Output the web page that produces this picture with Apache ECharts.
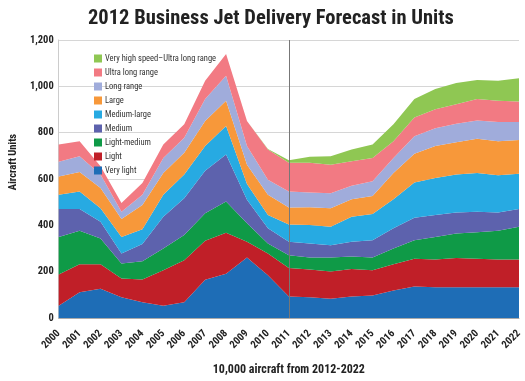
<!DOCTYPE html>
<html>
<head>
<meta charset="utf-8">
<script src="https://cdn.jsdelivr.net/npm/echarts@6/dist/echarts.min.js"></script>
<style>html,body{margin:0;padding:0;background:#fff}#c{width:525px;height:381px}</style>
</head>
<body>
<div id="c"></div>
<script>
const years = ['2000','2001','2002','2003','2004','2005','2006','2007','2008','2009','2010','2011','2012','2013','2014','2015','2016','2017','2018','2019','2020','2021','2022'];
const veryLight = [53,111,126,90,68,53,68,165,191,261,184,93,90,83,93,97,119,136,133,133,133,133,133];
const light = [135,121,106,80,98,153,181,168,177,68,94,123,119,118,118,109,113,120,120,126,123,120,120];
const lightMedium = [162,145,111,65,79,94,109,119,135,80,44,55,52,60,55,55,68,80,97,106,114,124,141];
const medium = [121,93,73,43,74,137,159,184,203,101,65,58,61,53,63,75,87,97,95,90,89,78,76];
const mediumLarge = [61,76,58,72,64,95,102,106,123,68,58,75,79,80,108,113,126,152,159,164,167,161,153];
const large = [79,84,87,77,105,94,94,108,109,84,87,73,77,80,76,78,113,124,138,140,148,147,145];
const longRange = [63,68,58,32,44,65,65,95,108,80,65,69,64,65,58,63,65,76,77,80,79,83,78];
const ultraLong = [75,65,36,37,51,58,58,79,94,108,130,124,128,123,106,101,72,80,82,84,92,92,89];
const veryHighSpeed = [0,0,0,0,0,0,0,0,0,0,2,11,26,36,50,58,73,80,87,91,82,86,100];
const seriesNames = ['Very light','Light','Light-medium','Medium','Medium-large','Large','Long range','Ultra long range','Very high speed\u2013Ultra long range'];
const seriesData = [veryLight, light, lightMedium, medium, mediumLarge, large, longRange, ultraLong, veryHighSpeed];
const colors = ['#1e6db6','#c01f28','#0f9a47','#5d62ad','#27aae2','#f7983a','#a0acdb','#f27a83','#8fc753'];
const dividerYear = '2011';

const FONT = '"Roboto Condensed","Liberation Sans",Arial,sans-serif';

const series = seriesNames.map((n, i) => {
  const s = {
    name: n, type: 'line', stack: 'total', data: seriesData[i],
    symbol: 'none', showSymbol: false,
    lineStyle: { width: 0 },
    areaStyle: { color: colors[i], opacity: 1 },
    itemStyle: { color: colors[i] },
    emphasis: { disabled: true },
    z: 2
  };
  if (i === seriesNames.length - 1) {
    s.markLine = {
      silent: true, symbol: 'none', label: { show: false },
      lineStyle: { color: '#777', width: 1, type: 'solid' },
      data: [{ xAxis: dividerYear }], z: 10
    };
  }
  return s;
});

const chart = echarts.init(document.getElementById('c'), null, { renderer: 'canvas' });
chart.setOption({
  animation: false,
  color: colors,
  title: {
    text: '2012 Business Jet Delivery Forecast in Units',
    left: 83, top: 3,
    textStyle: { fontFamily: FONT, fontSize: 20.5, fontWeight: 'bold', color: '#222' }
  },
  legend: {
    orient: 'vertical', left: 89, top: 49,
    icon: 'rect', itemWidth: 8, itemHeight: 8, itemGap: 5,
    data: seriesNames.slice().reverse(),
    textStyle: { fontFamily: FONT, fontSize: 8.5, lineHeight: 8, color: '#333', padding: [0,0,0,-2] }
  },
  grid: { left: 43, right: 4, top: 40, bottom: 63 },
  xAxis: {
    type: 'category', data: years, boundaryGap: false,
    axisLine: { lineStyle: { color: '#aaa' } },
    axisTick: { show: false },
    axisLabel: { rotate: 45, fontFamily: FONT, fontSize: 10.5, fontWeight: 'bold', color: '#222', margin: 14, interval: 0 },
    name: '10,000 aircraft from 2012-2022', nameLocation: 'middle', nameGap: 46,
    nameTextStyle: { fontFamily: FONT, fontSize: 12, fontWeight: 'bold', color: '#222' }
  },
  yAxis: {
    type: 'value', min: 0, max: 1200, interval: 200,
    axisLine: { show: true, lineStyle: { color: '#ccc' } },
    axisTick: { show: false },
    splitLine: { lineStyle: { color: '#d6d6d6' } },
    axisLabel: { fontFamily: FONT, fontSize: 10.5, fontWeight: 'bold', color: '#222', margin: 5,
      formatter: v => v.toLocaleString('en-US') },
    name: 'Aircraft Units', nameLocation: 'middle', nameGap: 34,
    nameTextStyle: { fontFamily: FONT, fontSize: 10.5, fontWeight: 'bold', color: '#222', padding: [0, 0, 0, 34] }
  },
  series: series
});
</script>
</body>
</html>
